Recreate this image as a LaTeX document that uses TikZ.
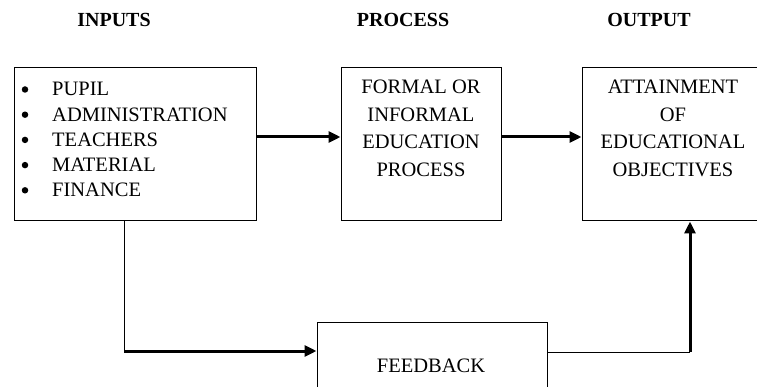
\documentclass[tikz,border=0pt]{standalone}
\usepackage{fontspec}
\setmainfont{Liberation Serif}
\usetikzlibrary{arrows.meta}
\begin{document}
\begin{tikzpicture}[x=1pt,y=-1pt,
  box/.style={draw,line width=1pt,rectangle,inner sep=0pt},
  txt/.style={inner sep=0pt,anchor=base,font=\fontsize{20.5}{25}\selectfont},
  bul/.style={circle,fill=black,inner sep=0pt,minimum size=6.5pt},
  head/.style={inner sep=0pt,anchor=base,font=\fontsize{20}{24}\selectfont\bfseries},
  arr/.style={line width=3pt,-{Triangle[length=12pt,width=11pt]}},
  thinline/.style={line width=1pt}]
\clip (0,0) rectangle (757,387);
\fill[white] (0,0) rectangle (757,387);
% headers
\node[head] (hin) at (114,27) {INPUTS};
\node[head] (hproc) at (403,27) {PROCESS};
\node[head] (hout) at (649,27) {OUTPUT};
% boxes
\node[box,minimum width=242pt,minimum height=153pt] (in) at (135,144.5) {};
\node[box,minimum width=160pt,minimum height=153pt] (proc) at (421,144.5) {};
\node[box,minimum width=182pt,minimum height=153pt] (out) at (673,144.5) {};
\node[box,minimum width=230pt,minimum height=88pt] (fb) at (432,366) {};
% input list
\foreach \t [count=\i] in {PUPIL,ADMINISTRATION,TEACHERS,MATERIAL,FINANCE}{
  \node[bul] (bul\i) at (25,{89.5+25.2*(\i-1)}) {};
  \node[txt,anchor=base west] (it\i) at (52,{96+25.2*(\i-1)}) {\t};
}
% process text
\foreach \t [count=\i] in {FORMAL OR,INFORMAL,EDUCATION,PROCESS}{
  \node[txt] (pt\i) at (421,{94+27.5*(\i-1)}) {\t};
}
% output text
\foreach \t [count=\i] in {ATTAINMENT,OF,EDUCATIONAL,OBJECTIVES}{
  \node[txt] (ot\i) at (673,{94+27.5*(\i-1)}) {\t};
}
\node[txt] (fbt) at (431,372) {FEEDBACK};
% connectors
\draw[arr] ([yshift=7.5pt]in.east) -- ([yshift=7.5pt]in.east -| proc.west);
\draw[arr] ([yshift=7.5pt]proc.east) -- ([yshift=7.5pt]proc.east -| out.west);
\coordinate (c1) at (124,351);
\coordinate (c2) at (690,352);
\draw[thinline] (c1 |- in.south) -- (c1);
\draw[arr] (c1) -- (c1 -| fb.west);
\draw[thinline] (c2 -| fb.east) -- (c2);
\draw[arr] (c2) -- (c2 |- out.south);
\end{tikzpicture}
\end{document}
